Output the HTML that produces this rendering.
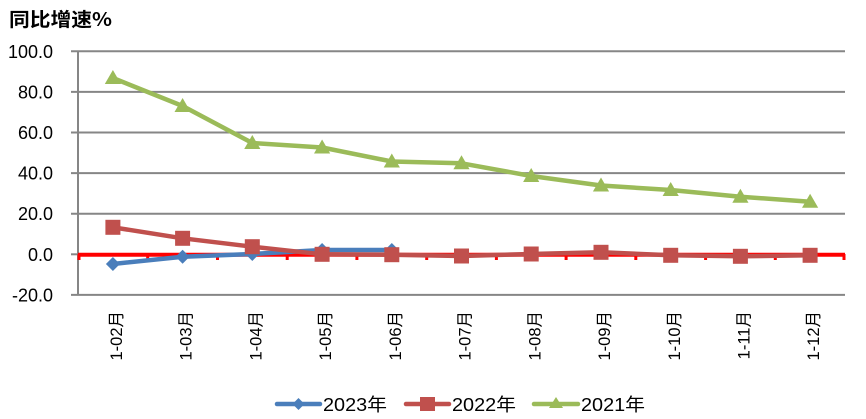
<!DOCTYPE html>
<html>
<head>
<meta charset="utf-8">
<style>
html,body{margin:0;padding:0;background:#fff;}
svg{display:block;}
text{font-family:"Liberation Sans","Noto Sans CJK SC",sans-serif;fill:#000;}
</style>
</head>
<body>
<svg width="866" height="419" viewBox="0 0 866 419" xmlns="http://www.w3.org/2000/svg">
  <!-- title -->
  <text x="9" y="26" font-size="19" font-weight="bold" textLength="103" lengthAdjust="spacingAndGlyphs" style="font-family:'Noto Sans CJK SC',sans-serif">同比增速%</text>

  <!-- gridlines -->
  <g stroke="#868686" stroke-width="2">
    <line x1="71" y1="51.3" x2="845" y2="51.3"/>
    <line x1="71" y1="91.9" x2="845" y2="91.9"/>
    <line x1="71" y1="132.5" x2="845" y2="132.5"/>
    <line x1="71" y1="173.1" x2="845" y2="173.1"/>
    <line x1="71" y1="213.7" x2="845" y2="213.7"/>
    <line x1="71" y1="254.3" x2="78" y2="254.3"/>
    <line x1="71" y1="294.9" x2="845" y2="294.9"/>
    <line x1="78" y1="51.3" x2="78" y2="294.9"/>
  </g>

  <!-- y labels -->
  <g font-size="18" text-anchor="end">
    <text x="53" y="57.8">100.0</text>
    <text x="53" y="98.4">80.0</text>
    <text x="53" y="139">60.0</text>
    <text x="53" y="179.6">40.0</text>
    <text x="53" y="220.2">20.0</text>
    <text x="53" y="260.8">0.0</text>
    <text x="53" y="301.4">-20.0</text>
  </g>

  <!-- red category axis at 0 -->
  <line x1="78" y1="254.8" x2="845" y2="254.8" stroke="#FF0000" stroke-width="4"/>
  <g stroke="#FF0000" stroke-width="3">
    <line x1="79" y1="254" x2="79" y2="260"/>
    <line x1="147.7" y1="254" x2="147.7" y2="260"/>
    <line x1="217.5" y1="254" x2="217.5" y2="260"/>
    <line x1="287.2" y1="254" x2="287.2" y2="260"/>
    <line x1="356.9" y1="254" x2="356.9" y2="260"/>
    <line x1="426.7" y1="254" x2="426.7" y2="260"/>
    <line x1="496.4" y1="254" x2="496.4" y2="260"/>
    <line x1="566.1" y1="254" x2="566.1" y2="260"/>
    <line x1="635.8" y1="254" x2="635.8" y2="260"/>
    <line x1="705.6" y1="254" x2="705.6" y2="260"/>
    <line x1="775.3" y1="254" x2="775.3" y2="260"/>
    <line x1="844" y1="254" x2="844" y2="260"/>
  </g>

  <!-- x labels -->
  <g font-size="16.5" text-anchor="end">
    <text transform="translate(122,311) rotate(-90)">1-02月</text>
    <text transform="translate(191.7,311) rotate(-90)">1-03月</text>
    <text transform="translate(261.4,311) rotate(-90)">1-04月</text>
    <text transform="translate(331.2,311) rotate(-90)">1-05月</text>
    <text transform="translate(400.9,311) rotate(-90)">1-06月</text>
    <text transform="translate(470.6,311) rotate(-90)">1-07月</text>
    <text transform="translate(540.3,311) rotate(-90)">1-08月</text>
    <text transform="translate(610.1,311) rotate(-90)">1-09月</text>
    <text transform="translate(679.8,311) rotate(-90)">1-10月</text>
    <text transform="translate(749.5,311) rotate(-90)">1-11月</text>
    <text transform="translate(819.2,311) rotate(-90)">1-12月</text>
  </g>

  <!-- 2021 green -->
  <polyline fill="none" stroke="#9BBB59" stroke-width="4.5" stroke-linejoin="round"
    points="112.9,78 182.6,106 252.3,143 322.1,147.5 391.8,161.5 461.5,163.3 531.2,176 601,185.5 670.7,190 740.4,196.7 810.1,201.7"/>
  <g fill="#9BBB59">
    <polygon points="112.9,70 121,84 104.8,84"/>
    <polygon points="182.6,98 190.7,112 174.5,112"/>
    <polygon points="252.3,135 260.4,149 244.2,149"/>
    <polygon points="322.1,139.5 330.2,153.5 314,153.5"/>
    <polygon points="391.8,153.5 399.9,167.5 383.7,167.5"/>
    <polygon points="461.5,155.3 469.6,169.3 453.4,169.3"/>
    <polygon points="531.2,168 539.3,182 523.1,182"/>
    <polygon points="601,177.5 609.1,191.5 592.9,191.5"/>
    <polygon points="670.7,182 678.8,196 662.6,196"/>
    <polygon points="740.4,188.7 748.5,202.7 732.3,202.7"/>
    <polygon points="810.1,193.7 818.2,207.7 802,207.7"/>
  </g>

  <!-- 2023 blue -->
  <polyline fill="none" stroke="#4A7EBB" stroke-width="4.5" stroke-linejoin="round"
    points="112.9,264 182.6,256.7 252.3,254 322.1,250 391.8,250"/>
  <g fill="#4A7EBB">
    <polygon points="112.9,257 119.9,264 112.9,271 105.9,264"/>
    <polygon points="182.6,249.7 189.6,256.7 182.6,263.7 175.6,256.7"/>
    <polygon points="252.3,247 259.3,254 252.3,261 245.3,254"/>
    <polygon points="322.1,243 329.1,250 322.1,257 315.1,250"/>
    <polygon points="391.8,243 398.8,250 391.8,257 384.8,250"/>
  </g>

  <!-- 2022 red -->
  <polyline fill="none" stroke="#C0504D" stroke-width="4.5" stroke-linejoin="round"
    points="112.9,227.3 182.6,238.3 252.3,246.7 322.1,254.3 391.8,254.7 461.5,256 531.2,254 601,252.3 670.7,255.3 740.4,256.3 810.1,255.3"/>
  <g fill="#C0504D">
    <rect x="105.4" y="219.8" width="15" height="15"/>
    <rect x="175.1" y="230.8" width="15" height="15"/>
    <rect x="244.8" y="239.2" width="15" height="15"/>
    <rect x="314.6" y="246.8" width="15" height="15"/>
    <rect x="384.3" y="247.2" width="15" height="15"/>
    <rect x="454" y="248.5" width="15" height="15"/>
    <rect x="523.7" y="246.5" width="15" height="15"/>
    <rect x="593.5" y="244.8" width="15" height="15"/>
    <rect x="663.2" y="247.8" width="15" height="15"/>
    <rect x="732.9" y="248.8" width="15" height="15"/>
    <rect x="802.6" y="247.8" width="15" height="15"/>
  </g>

  <!-- legend -->
  <line x1="277" y1="404" x2="320" y2="404" stroke="#4A7EBB" stroke-width="4.5" stroke-linecap="round"/>
  <polygon points="298.5,398 304.5,404 298.5,410 292.5,404" fill="#4A7EBB"/>
  <text x="323" y="411" font-size="18" textLength="64" lengthAdjust="spacingAndGlyphs">2023年</text>

  <line x1="406" y1="404" x2="449" y2="404" stroke="#C0504D" stroke-width="4.5" stroke-linecap="round"/>
  <rect x="420" y="397" width="15" height="14" fill="#C0504D"/>
  <text x="452" y="411" font-size="18" textLength="64" lengthAdjust="spacingAndGlyphs">2022年</text>

  <line x1="534" y1="404" x2="578" y2="404" stroke="#9BBB59" stroke-width="4.5" stroke-linecap="round"/>
  <polygon points="556,397 563,408 549,408" fill="#9BBB59"/>
  <text x="581" y="411" font-size="18" textLength="64" lengthAdjust="spacingAndGlyphs">2021年</text>
</svg>
</body>
</html>
